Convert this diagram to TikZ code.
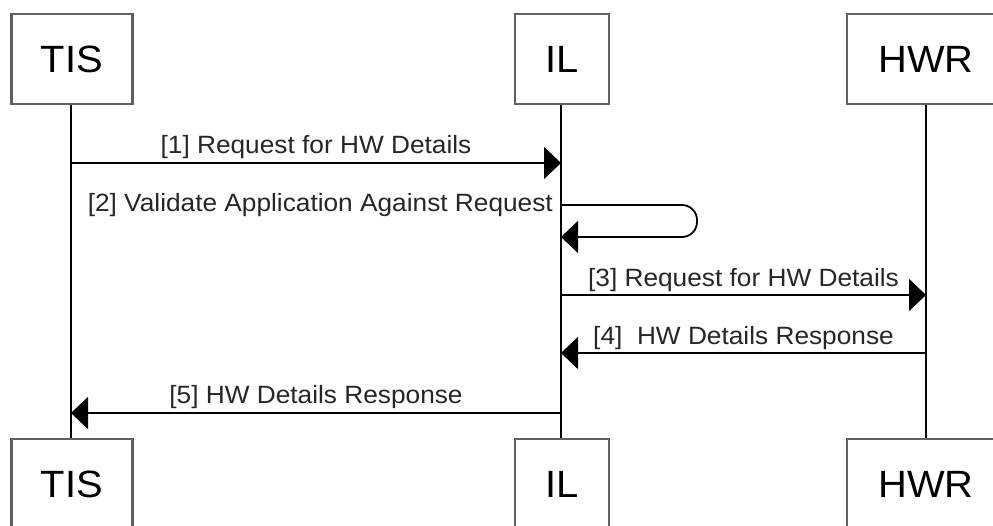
\documentclass[tikz,border=0pt]{standalone}
\usepackage{fontspec}
\setmainfont[FakeStretch=1.05]{Liberation Sans}
\usetikzlibrary{arrows.meta}
\begin{document}
\begin{tikzpicture}[x=1pt,y=-1pt,
  actor/.style={draw=black!62, line width=2.5pt, fill=white, minimum height=90pt, inner sep=0pt, font=\fontsize{38}{40}\selectfont},
  life/.style={line width=1.8pt},
  msg/.style={line width=1.8pt, -{Triangle[length=17pt,width=32pt]}},
  lbl/.style={font=\fontsize{25}{28}\selectfont, inner sep=0pt, text=black!85}]
\useasboundingbox (0,0) rectangle (993,525);
\clip (0,0) rectangle (993,525);
% lifelines
\coordinate (tisL) at (71,104);
\coordinate (ilL) at (561,104);
\coordinate (hwrL) at (926,104);
\coordinate (tisE) at (71,439);
\coordinate (ilE) at (561,439);
\coordinate (hwrE) at (926,439);
\draw[life] (tisL) -- (tisE);
\draw[life] (ilL) -- (ilE);
\draw[life] (hwrL) -- (hwrE);
% actor boxes
\node[actor, minimum width=121pt] (tisT) at (72,59) {TIS};
\node[actor, minimum width=94pt] (ilT) at (562,59) {IL};
\node[actor, minimum width=158pt] (hwrT) at (926,59) {HWR};
\node[actor, minimum width=121pt] (tisB) at (72,484) {TIS};
\node[actor, minimum width=94pt] (ilB) at (562,484) {IL};
\node[actor, minimum width=158pt] (hwrB) at (926,484) {HWR};
% message anchor points
\coordinate (m1a) at (71,163);  \coordinate (m1b) at (561,163);
\coordinate (m2a) at (561,205); \coordinate (m2b) at (561,237);
\coordinate (m3a) at (561,295); \coordinate (m3b) at (926,295);
\coordinate (m4a) at (926,353); \coordinate (m4b) at (561,353);
\coordinate (m5a) at (561,413); \coordinate (m5b) at (71,413);
% messages
\draw[msg] (m1a) -- node[lbl, midway, yshift=16pt] (l1) {[1] Request for HW Details} (m1b);
\draw[msg, rounded corners=15pt] (m2a) -- ++(136,0) -- ++(0,32) -- (m2b);
\node[lbl, anchor=east] (l2) at (553,205) {[2] Validate Application Against Request};
\draw[msg] (m3a) -- node[lbl, midway, yshift=15pt] (l3) {[3] Request for HW Details} (m3b);
\draw[msg] (m4a) -- node[lbl, midway, yshift=15pt] (l4) {[4]\ \ HW Details Response} (m4b);
\draw[msg] (m5a) -- node[lbl, midway, yshift=16pt] (l5) {[5] HW Details Response} (m5b);
\end{tikzpicture}
\end{document}
